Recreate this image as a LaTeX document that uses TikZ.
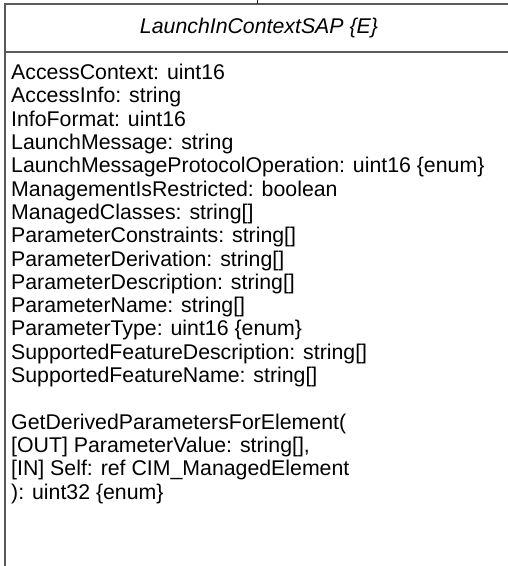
\documentclass[tikz,border=0pt]{standalone}
\usepackage{fontspec}
\setmainfont{Liberation Sans}
\begin{document}
\begin{tikzpicture}[x=1pt,y=-1pt,
  boxline/.style={draw=black!65,line width=1.3pt},
  attr/.style={anchor=base west,inner sep=0pt,font=\fontsize{21.3}{24}\selectfont,text=black},
  titletext/.style={inner sep=0pt,font=\fontsize{21.3}{24}\selectfont\itshape,text=black},
  link/.style={draw=blue,line width=1pt}]
\useasboundingbox (0,0) rectangle (507,566);
\coordinate (top) at (5,4);
\coordinate (tr) at (512,4);
\coordinate (bl) at (5,570);
\coordinate (hl) at (5,52);
\coordinate (hr) at (512,52);
\coordinate (up) at (257,-2);
\coordinate (jn) at (257,4);
\draw[boxline] (bl) -- (top) -- (tr);
\draw[boxline] (hl) -- (hr);
\draw[link] (up) -- (jn);
\node[titletext] (title) at (259,28) {LaunchInContextSAP \{E\}};
\node[attr] (a1) at (11,79.6) {AccessContext: uint16};
\node[attr] (a2) at (11,102.9) {AccessInfo: string};
\node[attr] (a3) at (11,126.2) {InfoFormat: uint16};
\node[attr] (a4) at (11,149.5) {LaunchMessage: string};
\node[attr] (a5) at (11,172.8) {LaunchMessageProtocolOperation: uint16 \{enum\}};
\node[attr] (a6) at (11,196.1) {ManagementIsRestricted: boolean};
\node[attr] (a7) at (11,219.4) {ManagedClasses: string[]};
\node[attr] (a8) at (11,242.7) {ParameterConstraints: string[]};
\node[attr] (a9) at (11,266.0) {ParameterDerivation: string[]};
\node[attr] (a10) at (11,289.3) {ParameterDescription: string[]};
\node[attr] (a11) at (11,312.6) {ParameterName: string[]};
\node[attr] (a12) at (11,335.9) {ParameterType: uint16 \{enum\}};
\node[attr] (a13) at (11,359.2) {SupportedFeatureDescription: string[]};
\node[attr] (a14) at (11,382.5) {SupportedFeatureName: string[]};
\node[attr] (m1) at (11,429.1) {GetDerivedParametersForElement(};
\node[attr] (m2) at (11,452.4) {[OUT] ParameterValue: string[],};
\node[attr] (m3) at (11,475.7) {[IN] Self: ref CIM\_ManagedElement};
\node[attr] (m4) at (11,499.0) {): uint32 \{enum\}};
\end{tikzpicture}
\end{document}
